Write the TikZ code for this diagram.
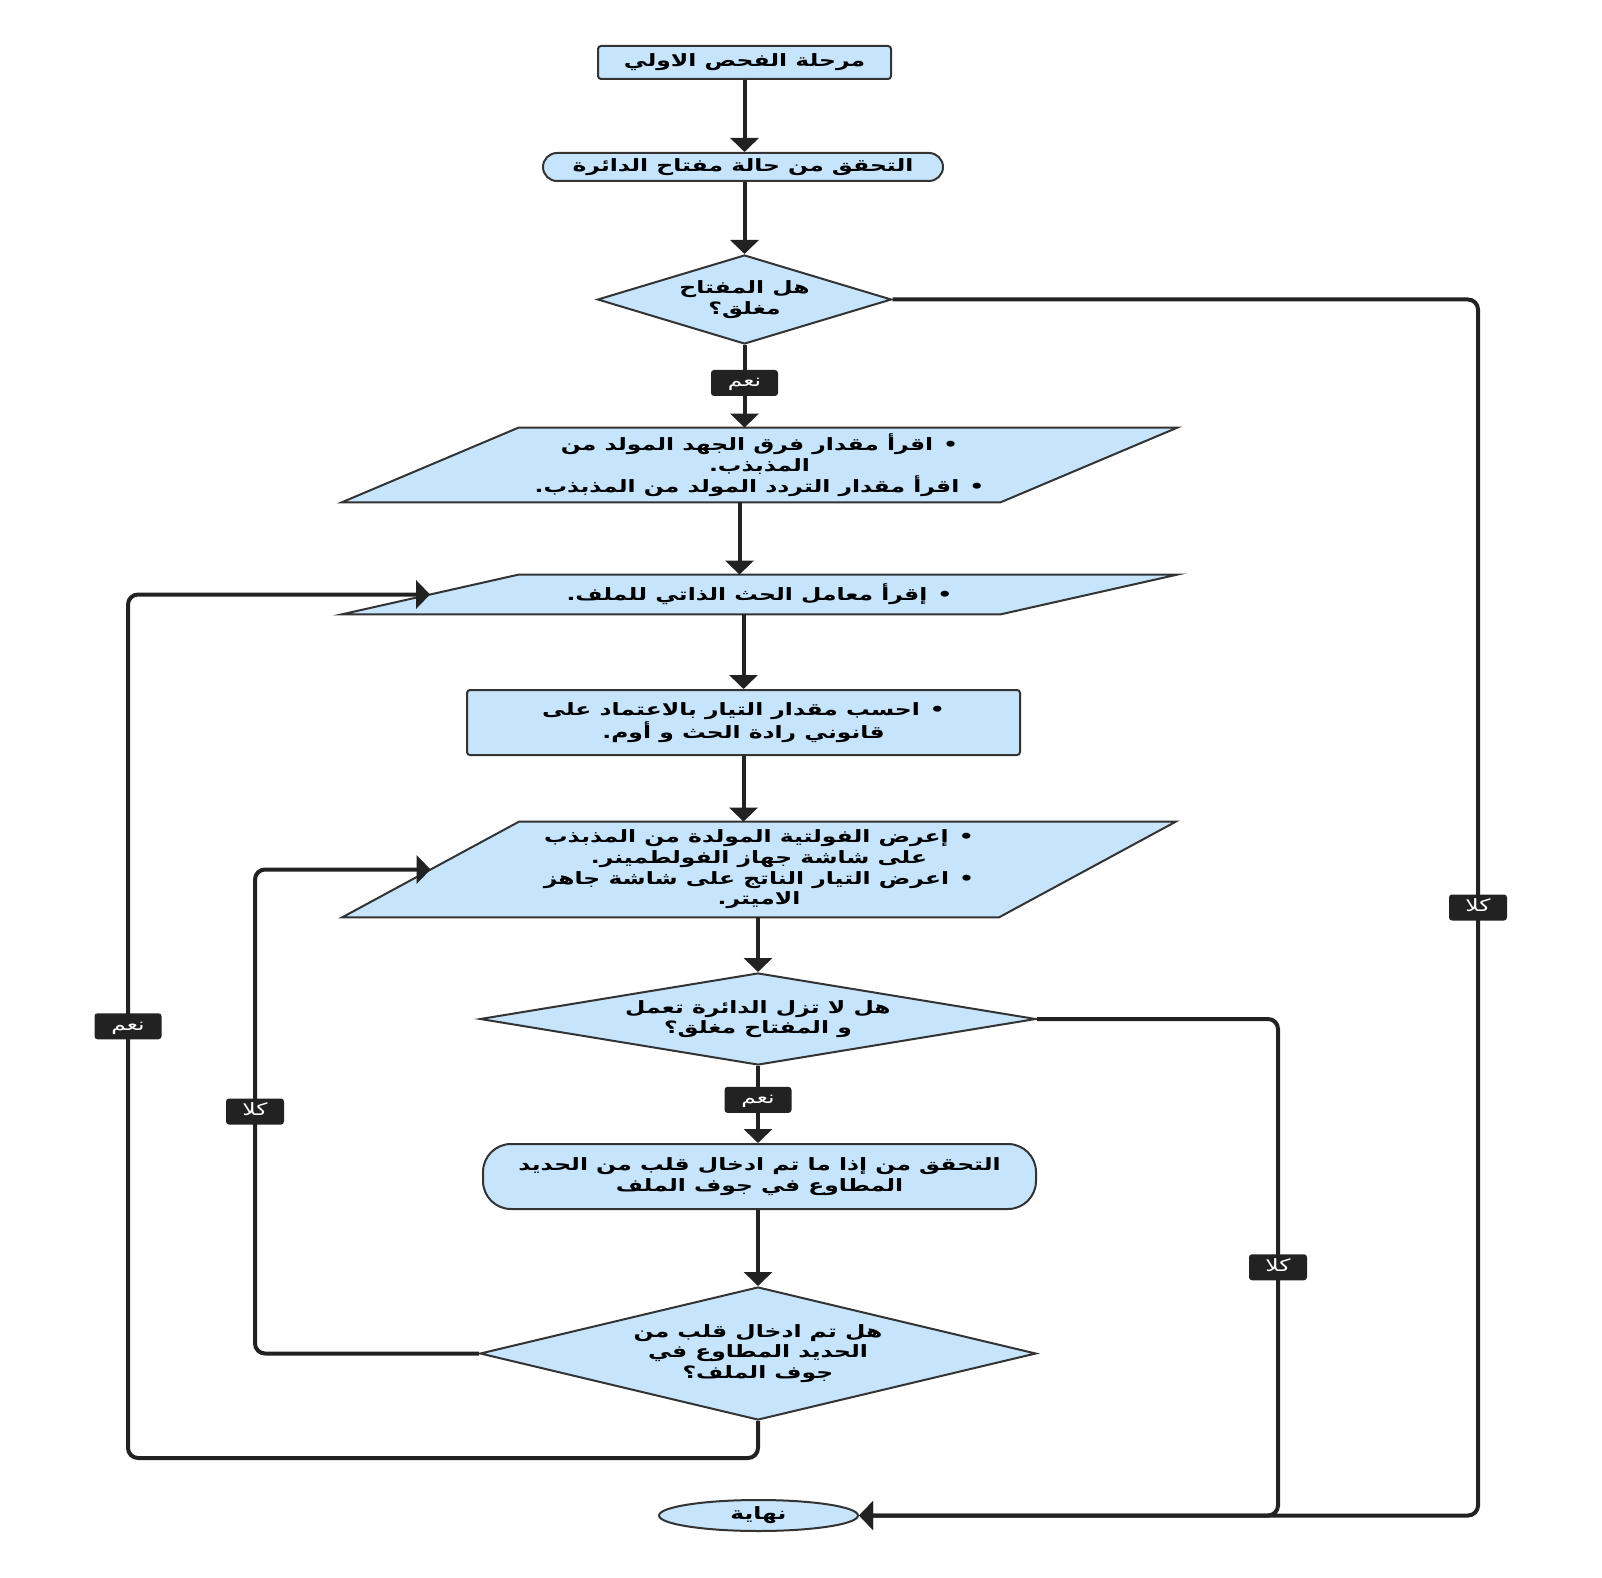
\documentclass[tikz,border=0pt]{standalone}
\usepackage{fontspec}
\newfontfamily\arabicfont[Script=Arabic,FakeStretch=1.38]{DejaVu Sans}
\TeXXeTstate=1
\usetikzlibrary{shapes.geometric,arrows.meta,calc,backgrounds}
\definecolor{nfill}{RGB}{198,229,253}
\definecolor{nline}{RGB}{51,51,51}
\definecolor{cline}{RGB}{34,34,34}
\newcommand\rl[1]{\beginR#1\endR}
\begin{document}
\begin{tikzpicture}[x=0.5pt,y=-0.5pt,
  txt/.style={font=\arabicfont\bfseries\fontsize{8.5}{10.35}\selectfont, text=black, align=center, inner sep=0pt},
  shp/.style={draw=nline, fill=nfill, line width=1pt},
  boxn/.style={txt, shp, rectangle, rounded corners=1.5pt},
  pill/.style={txt, shp, rectangle, rounded corners=#1},
  dia/.style={txt, shp, diamond, inner sep=0pt, shape aspect=#1},
  lean/.style={txt, rectangle, draw=none},
  flow/.style={draw=cline, line width=2pt, -{Triangle[width=14pt,length=7pt]}, rounded corners=5pt},
  lab/.style={font=\arabicfont\fontsize{8.5}{9}\selectfont, text=white, fill=cline, rounded corners=1.5pt, minimum height=13pt, minimum width=#1, inner sep=0pt, text height=5.5pt, text depth=1.5pt}
]
\useasboundingbox (0,0) rectangle (1602,1578);

\node[boxn, minimum width=146.5pt, minimum height=16.5pt] (b1) at (744.5,62.5) {\rl{مرحلة الفحص الاولي}};
\node[pill=7pt, minimum width=200pt, minimum height=14pt] (b2) at (743,167) {\rl{التحقق من حالة مفتاح الدائرة}};
\node[dia=3.3, minimum width=147pt, minimum height=44.5pt] (d1) at (744.5,299.5) {\rl{هل المفتاح}\\\rl{مغلق؟}};
\node[lean, minimum width=329pt, minimum height=37pt] (p1) at (759.5,465) {\rl{•\hspace{5pt}اقرأ مقدار فرق الجهد المولد من}\\\rl{المذبذب.}\\\rl{•\hspace{5pt}اقرأ مقدار التردد المولد من المذبذب.}};
\node[lean, minimum width=329pt, minimum height=19.5pt] (p2) at (759.5,594.5) {\rl{•\hspace{5pt}إقرأ معامل الحث الذاتي للملف.}};
\node[boxn, minimum width=276.5pt, minimum height=32.5pt] (r3) at (743.5,722.5) {\rl{•\hspace{5pt}احسب مقدار التيار بالاعتماد على}\\\rl{قانوني رادة الحث و أوم.}};
\node[lean, minimum width=328pt, minimum height=47.5pt] (p3) at (759,869.5) {\rl{•\hspace{5pt}إعرض الفولتية المولدة من المذبذب}\\\rl{على شاشة جهاز الفولطمينر.}\\\rl{•\hspace{5pt}اعرض التيار الناتج على شاشة جاهز}\\\rl{الاميتر.}};
\node[dia=6.04, minimum width=278pt, minimum height=46pt] (d2) at (758,1019) {\rl{هل لا تزل الدائرة تعمل}\\\rl{و المفتاح مغلق؟}};
\node[pill=14pt, minimum width=276.5pt, minimum height=32.5pt] (r4) at (759.5,1176.5) {\rl{التحقق من إذا ما تم ادخال قلب من الحديد}\\\rl{المطاوع في جوف الملف}};
\node[dia=4.18, minimum width=278pt, minimum height=66.5pt] (d3) at (758,1353.5) {\rl{هل تم ادخال قلب من}\\\rl{الحديد المطاوع في}\\\rl{جوف الملف؟}};
\node[txt, shp, ellipse, minimum width=99.5pt, minimum height=15.5pt] (e) at (758.5,1515.5) {\rl{نهاية}};

\coordinate (cR1) at (1478,0);
\coordinate (cR2) at (1278,0);
\coordinate (cL1) at (255,0);
\coordinate (cL2) at (128,1458);

\begin{scope}[on background layer]
  \fill[white] (0,0) rectangle (1602,1578);
  \foreach \n in {p1,p2,p3}
    \path[shp] ([xshift=44.25pt]\n.north west) -- ([xshift=44.25pt]\n.north east) -- ([xshift=-44.25pt]\n.south east) -- ([xshift=-44.25pt]\n.south west) -- cycle;
\end{scope}

\draw[flow] (b1.south) -- (b1.south |- b2.north);
\draw[flow] (b2.south -| d1.north) -- (d1.north);
\draw[flow] (d1.south) -- node[lab=33.5pt, pos=0.46] {\rl{نعم}} (d1.south |- p1.north);
\draw[flow] ([xshift=-10pt]p1.south) -- ([xshift=-10pt]p2.north);
\draw[flow] (p2.south -| r3.north) -- (r3.north);
\draw[flow] (r3.south) -- (r3.south |- p3.north);
\draw[flow] (p3.south -| d2.north) -- (d2.north);
\draw[flow] (d2.south) -- node[lab=33.5pt, pos=0.44] {\rl{نعم}} (d2.south |- r4.north);
\draw[flow] (r4.south -| d3.north) -- (d3.north);
\draw[flow] (d1.east) -- (d1.east -| cR1) -- node[lab=29pt] {\rl{كلا}} (cR1 |- e.east) -- (e.east);
\draw[flow] (d2.east) -- (d2.east -| cR2) -- node[lab=29pt] {\rl{كلا}} (cR2 |- e.east) -- (e.east);
\draw[flow] (d3.west) -- (d3.west -| cL1) -- node[lab=29pt] {\rl{كلا}} (cL1 |- p3.west) -- (p3.west);
\draw[flow] (d3.south) -- (d3.south |- cL2) -- (cL2) -- node[lab=33.5pt] {\rl{نعم}} (cL2 |- p2.west) -- (p2.west);
\end{tikzpicture}
\end{document}
